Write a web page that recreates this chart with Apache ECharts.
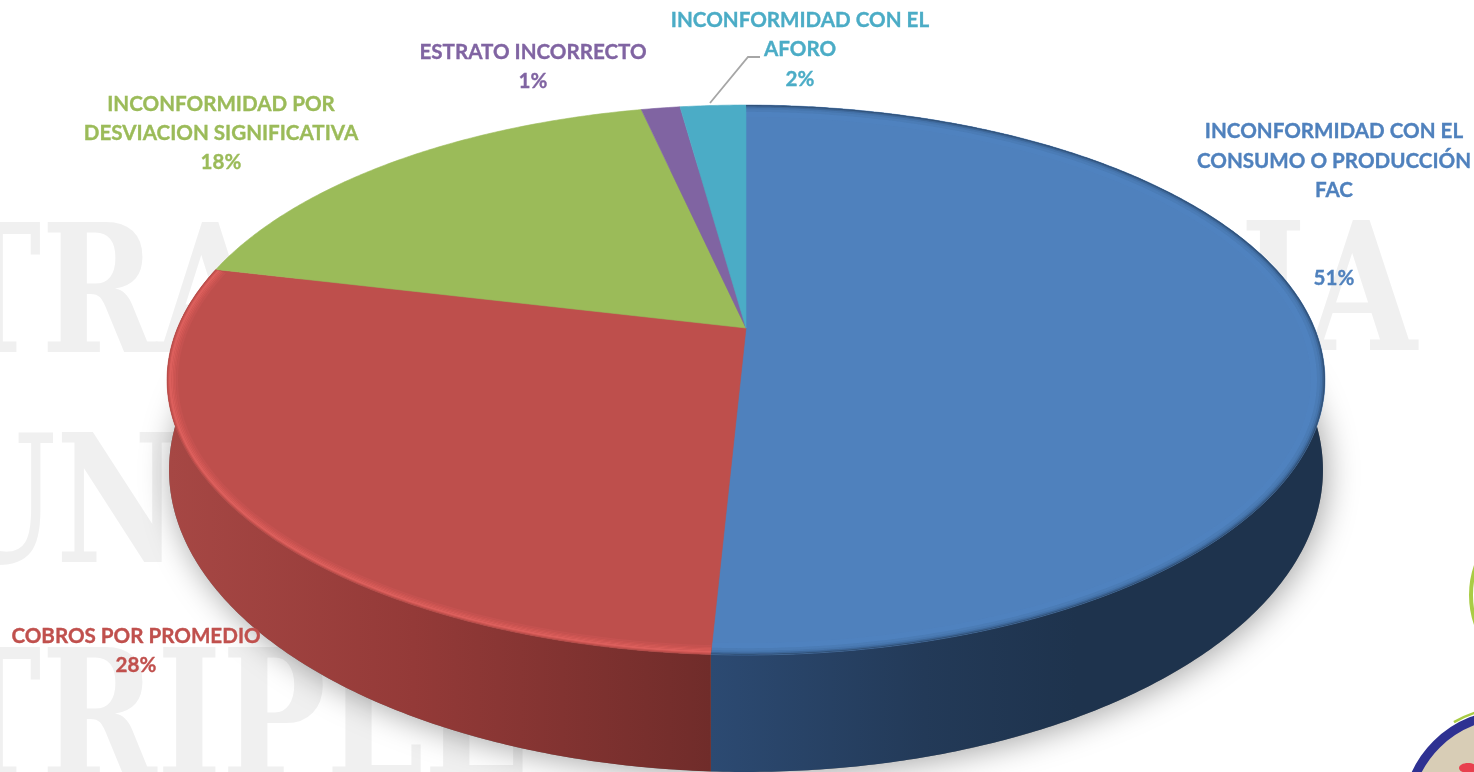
<!DOCTYPE html>
<html>
<head>
<meta charset="utf-8">
<title>Inconformidades</title>
<script src="https://cdn.jsdelivr.net/npm/echarts@6/dist/echarts.min.js"></script>
<style>
  html, body { margin: 0; padding: 0; background: #fff; }
  #main { width: 1474px; height: 772px; }
</style>
</head>
<body>
<div id="main"></div>
<script>
// datos
var categories = [
  'INCONFORMIDAD CON EL\nCONSUMO O PRODUCCIÓN\nFAC',
  'COBROS POR PROMEDIO',
  'INCONFORMIDAD POR\nDESVIACION SIGNIFICATIVA',
  'ESTRATO INCORRECTO',
  'INCONFORMIDAD CON EL\nAFORO'
];
var values = [50.8, 27.9, 17.8, 1.3, 2.2];

// estilos
var colors = ['#4F81BD', '#BE4F4C', '#9BBB59', '#8064A2', '#4BACC6'];
var textColors = ['#4F81BD', '#C0504D', '#9BBB59', '#8064A2', '#4BACC6'];
var labelPos = [
  { x: 1334, y: 161, py: 278 },
  { x: 136, y: 636, py: 665 },
  { x: 221, y: 119, py: 162.5 },
  { x: 533, y: 52, py: 81 },
  { x: 800, y: 35, py: 79 }
];
var wallStops = [
  [[0, '#A64744'], [0.45, '#943A38'], [1, '#702C2A']],
  [[0, '#2C4A72'], [0.35, '#233A58'], [0.6, '#1E334D'], [1, '#1E334D']]
];
// bandas del bisel: desde, hasta (px hacia adentro), color
var bevelRed = [
  [0, 1, '#B84C49'], [1, 2, '#CC5653'], [2, 4.5, '#DC5F5C'], [4.5, 6, '#D85C59'], [6, 7.5, '#D25855'], [7.5, 9, '#CC5552'], [9, 11, '#C55250']
];
var bevelBlue = [
  [0, 1.5, 'rgba(25,45,70,0.55)'], [1.5, 3, 'rgba(30,55,85,0.35)'], [3, 5, 'rgba(35,65,100,0.18)'],
  [5, 8, 'rgba(35,65,100,0.07)'], [8, 14, 'rgba(90,150,220,0.1)']
];

// pastel en perspectiva
var cx = 746, apexY = 328, persp = -0.1891, depthB = 203.1, sideA = 568.5;
var topE = { cy: 380, rx: 579, ry: 275 };
var lowE = { cy: 470, rx: 577, ry: 302 };

function rimNorm(deg) {
  var t = deg * Math.PI / 180;
  var u = Math.sin(t), v = -Math.cos(t);
  var w = 1 + persp * v;
  var x = cx + sideA * u / w;
  var y = (apexY + depthB * v) / w;
  return [(x - cx) / topE.rx, (y - topE.cy) / topE.ry];
}
function onEllipse(n, e, d) {
  d = d || 0;
  return [cx + (e.rx - d) * n[0], e.cy + (e.ry - 0.85 * d) * n[1]];
}
function arcPoints(a0, a1, e, d) {
  var pts = [], steps = Math.max(2, Math.ceil(Math.abs(a1 - a0) / 0.5));
  for (var i = 0; i <= steps; i++) {
    pts.push(onEllipse(rimNorm(a0 + (a1 - a0) * i / steps), e, d));
  }
  return pts;
}

var total = values.reduce(function (s, v) { return s + v; }, 0);

function renderSlice(params) {
  var i = params.dataIndex;
  var start = 0;
  for (var k = 0; k < i; k++) start += values[k];
  var a0 = start / total * 360, a1 = (start + values[i]) / total * 360;
  var children = [];

  if (i === 0) {
    // sombra debajo del pastel
    children.push({
      type: 'polygon', z2: 0,
      shape: { points: arcPoints(0, 360, lowE) },
      style: { fill: '#777', shadowColor: 'rgba(0,0,0,0.36)', shadowBlur: 32, shadowOffsetX: 3, shadowOffsetY: 3 }
    });
  }
  // pared lateral
  if (i < 2) {
    children.push({
      type: 'polygon', z2: 1,
      shape: { points: arcPoints(a0, a1, topE).concat(arcPoints(a0, a1, lowE).reverse()) },
      style: {
        fill: {
          type: 'linear', global: true,
          x: i === 0 ? 711 : 170, y: 0, x2: i === 0 ? 1320 : 711, y2: 0,
          colorStops: wallStops[i === 0 ? 1 : 0].map(function (s) { return { offset: s[0], color: s[1] }; })
        }
      }
    });
  }
  // cara superior
  children.push({
    type: 'polygon', z2: 2,
    shape: { points: [[cx, apexY]].concat(arcPoints(a0, a1, topE)) },
    style: { fill: colors[i], stroke: colors[i], lineWidth: 0.6 }
  });
  // bisel
  var bevel = i === 0 ? bevelBlue : i === 1 ? bevelRed : [];
  bevel.forEach(function (b) {
    children.push({
      type: 'polygon', z2: 3,
      shape: { points: arcPoints(a0, a1, topE, b[0]).concat(arcPoints(a0, a1, topE, b[1]).reverse()) },
      style: { fill: b[2] }
    });
  });
  // etiquetas
  var font = 'bold 20.6px Lato, "Noto Sans", sans-serif';
  children.push({
    type: 'text', z2: 6,
    style: {
      text: categories[i], x: labelPos[i].x, y: labelPos[i].y,
      fill: textColors[i], stroke: textColors[i], lineWidth: 0.35,
      font: font, align: 'center', verticalAlign: 'middle', lineHeight: 29.5
    }
  });
  children.push({
    type: 'text', z2: 6,
    style: {
      text: Math.round(values[i]) + '%', x: labelPos[i].x, y: labelPos[i].py,
      fill: textColors[i], stroke: textColors[i], lineWidth: 0.35,
      font: font, align: 'center', verticalAlign: 'middle'
    }
  });
  if (i === 4) {
    children.push({
      type: 'polyline', z2: 5,
      shape: { points: [[710, 103], [748, 57], [760, 57]] },
      style: { stroke: '#A6A6A6', lineWidth: 1.8, fill: null }
    });
  }
  return { type: 'group', children: children };
}

// marca de agua: texto, x, linea base, escala
var watermark = [
  ['TRA', -62, 395, 0.78],
  ['IA', 1240, 393, 0.8],
  ['UN', -62, 605, 0.76],
  ['TRIPLE', -62, 820, 0.78]
];

var myChart = echarts.init(document.getElementById('main'));
var option = {
  animation: false,
  backgroundColor: '#fff',
  graphic: {
    elements: watermark.map(function (w) {
      return {
        type: 'text', x: w[1], y: w[2], scaleX: w[3], z: 0, silent: true,
        style: {
          text: w[0], fill: '#F0F0F0', font: 'bold 178px "DejaVu Serif", serif',
          textAlign: 'left', textVerticalAlign: 'bottom', verticalAlign: 'alphabetic'
        }
      };
    }).concat([
      // logo cortado en la esquina
      { type: 'arc', z: 1, silent: true, shape: { cx: 1510, cy: 818, r: 111, startAngle: -2.1, endAngle: -1.85, clockwise: true }, style: { fill: 'none', stroke: '#A9CC45', lineWidth: 2.5 } },
      { type: 'circle', z: 1, silent: true, shape: { cx: 1510, cy: 818, r: 104 }, style: { fill: '#D8CDB6', stroke: '#2E3192', lineWidth: 9 } },
      { type: 'ellipse', z: 1, silent: true, shape: { cx: 1468, cy: 768, rx: 9, ry: 5 }, style: { fill: '#E8404E' } },
      { type: 'circle', z: 1, silent: true, shape: { cx: 1562, cy: 595, r: 91 }, style: { fill: 'none', stroke: '#A9CC45', lineWidth: 4 } }
    ])
  },
  series: [{
    type: 'custom',
    coordinateSystem: 'none',
    silent: true,
    data: values,
    renderItem: renderSlice
  }]
};
option && myChart.setOption(option);
</script>
</body>
</html>
